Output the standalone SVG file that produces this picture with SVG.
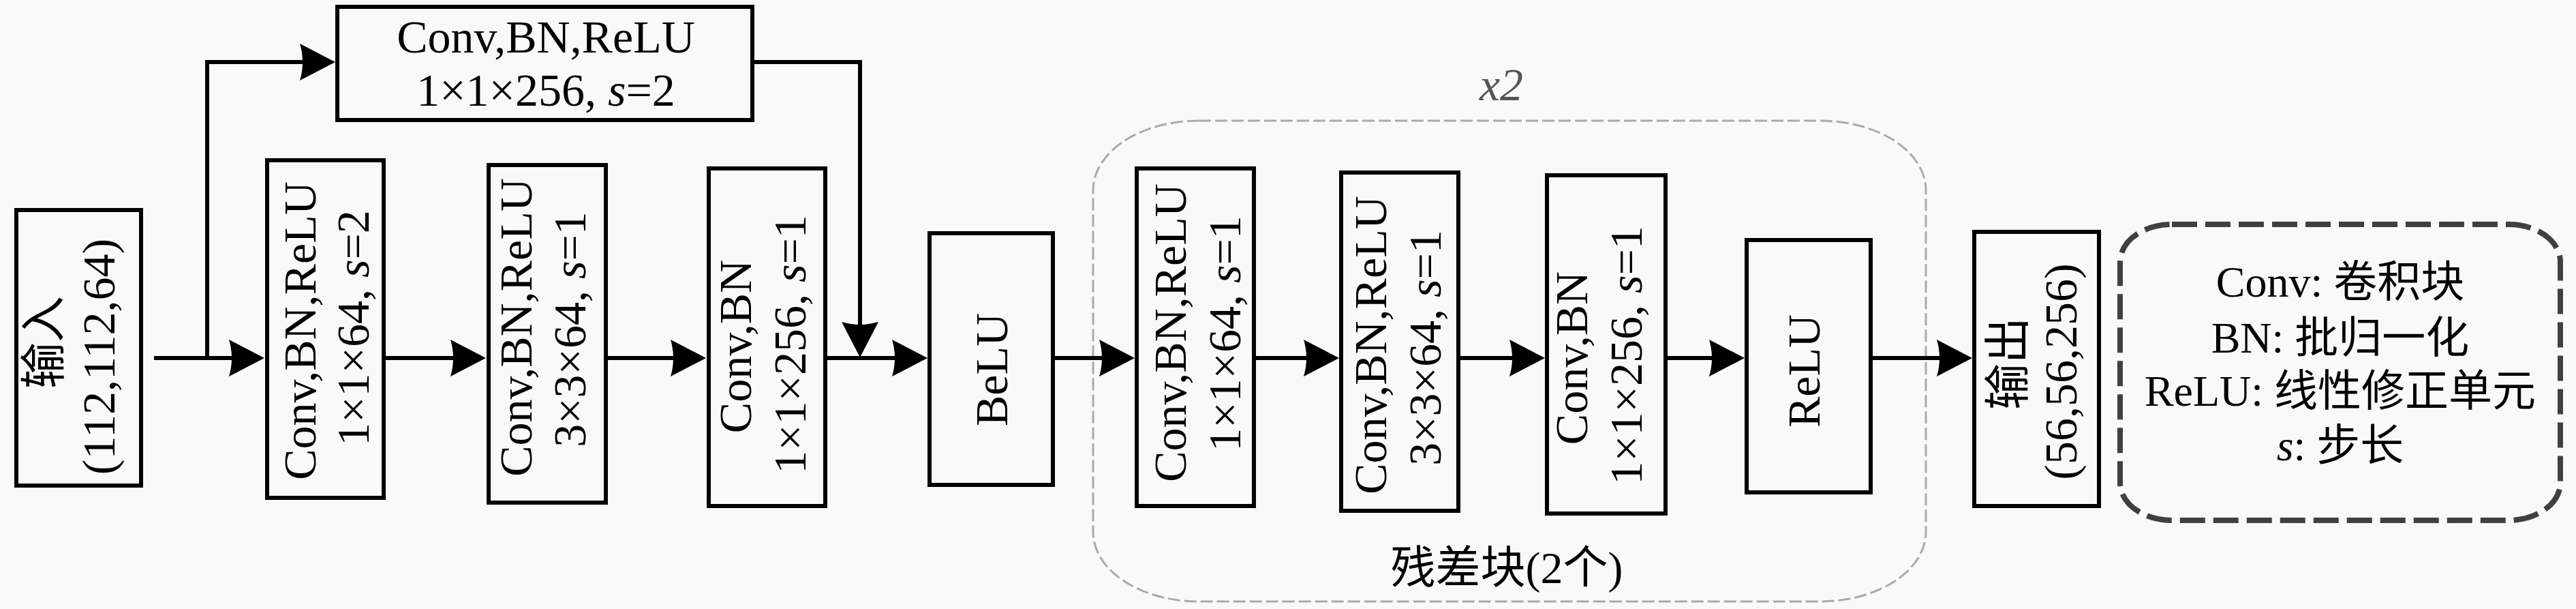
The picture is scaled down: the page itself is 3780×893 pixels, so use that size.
<svg xmlns="http://www.w3.org/2000/svg" width="3780" height="893" viewBox="0 0 3780 893">
<style>
.box{fill:none;stroke:#000;stroke-width:6}
.t{font-family:"Liberation Serif","Noto Sans CJK SC",serif;font-size:68px;fill:#000;text-anchor:middle}
.leg{font-family:"Liberation Serif","Noto Sans CJK SC",serif;font-size:64px;fill:#000;text-anchor:middle}
.i{font-style:italic}
.conn{fill:none;stroke:#000;stroke-width:6;marker-end:url(#arr)}
.plain{fill:none;stroke:#000;stroke-width:6}
</style>
<defs>
<marker id="arr" markerUnits="userSpaceOnUse" viewBox="-40 -30 80 60" markerWidth="80" markerHeight="60" refX="0" refY="0" orient="auto" overflow="visible">
<path d="M20,0 L-32,-27 Q-24,0 -32,27 Z" fill="#000"/>
</marker>
</defs>
<rect x="0" y="0" width="3780" height="893" fill="#f9f9f9"/>

<g id="residual-group">
<rect x="1604" y="177" width="1222" height="705" rx="155" ry="102" fill="none" stroke="#aaaaaa" stroke-width="3" stroke-dasharray="18 6"/>
<text class="t i" x="2203" y="147" fill="#555" style="fill:#555">x2</text>
<text class="t" x="2211" y="855" style="font-size:66px">残差块(2个)</text>
</g>

<g id="connectors">
<path class="conn" d="M226,525 H368"/>
<path class="conn" d="M304,525 V91 H472"/>
<path class="plain" d="M1107,91 H1262 V504"/>
<path class="conn" d="M1262,91 V504"/>
<path class="conn" d="M566,525 H693"/>
<path class="conn" d="M892,525 H1016"/>
<path class="conn" d="M1214,525 H1341"/>
<path class="conn" d="M1548,525 H1645"/>
<path class="conn" d="M1843,525 H1945"/>
<path class="conn" d="M2143,525 H2247"/>
<path class="conn" d="M2447,525 H2540"/>
<path class="conn" d="M2748,525 H2874"/>
</g>

<g id="input">
<rect class="box" x="24" y="308" width="183" height="404"/>
<text class="t" transform="translate(88,502) rotate(-90)">输入</text>
<text class="t" transform="translate(168,523) rotate(-90)">(112,112,64)</text>
</g>

<g id="shortcut">
<rect class="box" x="495" y="10" width="609" height="166"/>
<text class="t" x="801" y="77">Conv,BN,ReLU</text>
<text class="t" x="801" y="155">1×1×256, <tspan class="i">s</tspan>=2</text>
</g>

<g id="conv1">
<rect class="box" x="392" y="235" width="171" height="495"/>
<text class="t" transform="translate(463,485) rotate(-90)">Conv,BN,ReLU</text>
<text class="t" transform="translate(541,481) rotate(-90)">1×1×64, <tspan class="i">s</tspan>=2</text>
</g>

<g id="conv2">
<rect class="box" x="717" y="242" width="172" height="495"/>
<text class="t" transform="translate(780,480) rotate(-90)">Conv,BN,ReLU</text>
<text class="t" transform="translate(859,483) rotate(-90)">3×3×64, <tspan class="i">s</tspan>=1</text>
</g>

<g id="conv3">
<rect class="box" x="1040" y="247" width="171" height="495"/>
<text class="t" transform="translate(1102,508) rotate(-90)">Conv,BN</text>
<text class="t" transform="translate(1182,505) rotate(-90)">1×1×256, <tspan class="i">s</tspan>=1</text>
</g>

<g id="belu">
<rect class="box" x="1364" y="342" width="181" height="369"/>
<text class="t" transform="translate(1478,542) rotate(-90)">BeLU</text>
</g>

<g id="res1">
<rect class="box" x="1668" y="247" width="172" height="495"/>
<text class="t" transform="translate(1740,488) rotate(-90)">Conv,BN,ReLU</text>
<text class="t" transform="translate(1820,489) rotate(-90)">1×1×64, <tspan class="i">s</tspan>=1</text>
</g>

<g id="res2">
<rect class="box" x="1968" y="253" width="172" height="496"/>
<text class="t" transform="translate(2034,506) rotate(-90)">Conv,BN,ReLU</text>
<text class="t" transform="translate(2114,510) rotate(-90)">3×3×64, <tspan class="i">s</tspan>=1</text>
</g>

<g id="res3">
<rect class="box" x="2270" y="257" width="174" height="496"/>
<text class="t" transform="translate(2329,525) rotate(-90)">Conv,BN</text>
<text class="t" transform="translate(2409,521) rotate(-90)">1×1×256, <tspan class="i">s</tspan>=1</text>
</g>

<g id="relu">
<rect class="box" x="2563" y="352" width="182" height="370"/>
<text class="t" transform="translate(2670,544) rotate(-90)">ReLU</text>
</g>

<g id="output">
<rect class="box" x="2897" y="340" width="183" height="402"/>
<text class="t" transform="translate(2970,533) rotate(-90)">输出</text>
<text class="t" transform="translate(3047,545) rotate(-90)">(56,56,256)</text>
</g>

<g id="legend">
<rect x="3111" y="329" width="646" height="434" rx="76" ry="55" fill="none" stroke="#404040" stroke-width="8" stroke-dasharray="37 12"/>
<text class="leg" x="3434" y="435">Conv: 卷积块</text>
<text class="leg" x="3434" y="517">BN: 批归一化</text>
<text class="leg" x="3434" y="595">ReLU: 线性修正单元</text>
<text class="leg" x="3434" y="675"><tspan class="i">s</tspan>: 步长</text>
</g>
</svg>
